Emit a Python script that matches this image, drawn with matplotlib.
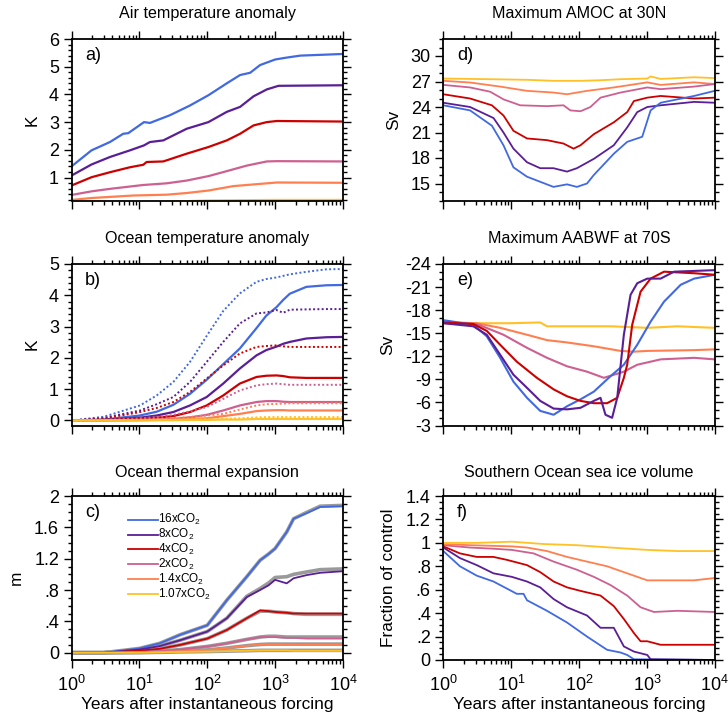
import matplotlib
matplotlib.use("Agg")
import matplotlib.pyplot as plt
from matplotlib.ticker import FixedLocator, MultipleLocator, LogLocator, FuncFormatter, NullFormatter

plt.rcParams["font.family"] = ["Liberation Sans", "DejaVu Sans"]
plt.rcParams["mathtext.fontset"] = "custom"
plt.rcParams["mathtext.rm"] = "Liberation Sans"
plt.rcParams["mathtext.it"] = "Liberation Sans"

# ---------------- experiments ----------------
labels = ["16xCO$_2$", "8xCO$_2$", "4xCO$_2$", "2xCO$_2$", "1.4xCO$_2$", "1.07xCO$_2$"]
colors = ["#4169e1", "#5a1e96", "#cd0000", "#cd6090", "#ff7f50", "#ffc125"]

# ---------------- a) air temperature anomaly (K) ----------------
a_yr_16 = [1, 1.97, 3.68, 5.79, 6.86, 11.7, 14.3, 28.3, 55.7, 104, 194, 305, 428, 601, 1000, 1490, 2343, 10000]
a_16 = [1.40, 1.98, 2.28, 2.58, 2.60, 3.00, 2.97, 3.25, 3.60, 3.97, 4.40, 4.70, 4.78, 5.06, 5.26, 5.33, 5.40, 5.46]
a_yr_8 = [1, 1.97, 3.68, 7.26, 11.7, 14.3, 22.5, 49.8, 104, 194, 305, 480, 754, 1122, 10000]
a_8 = [1.07, 1.47, 1.74, 1.98, 2.16, 2.28, 2.34, 2.76, 3.00, 3.37, 3.55, 3.93, 4.18, 4.31, 4.33]
a_yr_4 = [1, 1.97, 3.68, 7.26, 11.4, 12.8, 22.5, 49.8, 104, 194, 305, 480, 754, 1059, 10000]
a_4 = [0.71, 1.01, 1.19, 1.37, 1.46, 1.56, 1.58, 1.86, 2.10, 2.34, 2.58, 2.88, 3.00, 3.04, 3.02]
a_yr_2 = [1, 1.97, 3.68, 11.4, 25.2, 49.8, 104, 194, 382, 754, 1059, 10000]
a_2 = [0.37, 0.50, 0.59, 0.73, 0.79, 0.89, 1.05, 1.23, 1.43, 1.58, 1.59, 1.58]
a_yr_14 = [1, 1.97, 8.13, 25.2, 49.8, 104, 243, 601, 1059, 10000]
a_14 = [0.19, 0.26, 0.35, 0.38, 0.44, 0.53, 0.69, 0.77, 0.82, 0.81]
a_yr_107 = [1, 10, 98, 1000, 10000]
a_107 = [0.05, 0.09, 0.17, 0.19, 0.19]

# ---------------- b) ocean temperature anomaly (K) ----------------
# solid: full depth, dotted: upper ocean
b_yr = [1, 3, 10.2, 18, 31.6, 55.6, 98, 172, 302, 531, 741, 1047, 1312, 1644, 2884, 5690, 10000]
b_16 = [0, 0.03, 0.16, 0.28, 0.50, 0.85, 1.30, 1.80, 2.30, 2.95, 3.35, 3.62, 3.85, 4.05, 4.27, 4.32, 4.33]
b_16u = [0, 0.12, 0.48, 0.80, 1.23, 1.87, 2.70, 3.50, 4.06, 4.43, 4.52, 4.57, 4.62, 4.67, 4.75, 4.83, 4.84]
b_8 = [0, 0.02, 0.09, 0.16, 0.27, 0.48, 0.75, 1.18, 1.66, 2.08, 2.25, 2.36, 2.45, 2.51, 2.62, 2.66, 2.67]
b_8u = [0, 0.08, 0.32, 0.52, 0.75, 1.23, 1.87, 2.51, 3.10, 3.42, 3.45, 3.53, 3.44, 3.54, 3.55, 3.56, 3.56]
b_4 = [0, 0.01, 0.05, 0.09, 0.14, 0.27, 0.48, 0.80, 1.18, 1.39, 1.43, 1.44, 1.42, 1.38, 1.36, 1.36, 1.36]
b_4u = [0, 0.06, 0.27, 0.40, 0.59, 0.91, 1.34, 1.76, 2.14, 2.35, 2.38, 2.40, 2.37, 2.35, 2.35, 2.35, 2.35]
b_2 = [0, 0.0, 0.02, 0.03, 0.05, 0.10, 0.18, 0.32, 0.48, 0.59, 0.62, 0.62, 0.60, 0.59, 0.59, 0.59, 0.59]
b_2u = [0, 0.02, 0.07, 0.11, 0.18, 0.29, 0.43, 0.69, 0.96, 1.12, 1.16, 1.18, 1.16, 1.14, 1.14, 1.14, 1.14]
b_14 = [0, 0.0, 0.01, 0.02, 0.03, 0.05, 0.07, 0.14, 0.21, 0.30, 0.32, 0.33, 0.33, 0.32, 0.32, 0.32, 0.32]
b_14u = [0, 0.01, 0.03, 0.05, 0.08, 0.11, 0.16, 0.21, 0.35, 0.48, 0.52, 0.53, 0.54, 0.55, 0.55, 0.55, 0.55]
b_107 = [0, 0.0, 0.0, 0.01, 0.01, 0.02, 0.02, 0.03, 0.03, 0.05, 0.05, 0.05, 0.05, 0.05, 0.05, 0.05, 0.05]
b_107u = [0, 0.0, 0.01, 0.01, 0.02, 0.03, 0.04, 0.05, 0.07, 0.10, 0.11, 0.11, 0.11, 0.11, 0.11, 0.11, 0.11]

# ---------------- c) ocean thermal expansion (m) ----------------
c_yr = [1, 3, 10, 20, 40, 100, 194, 382, 601, 800, 1000, 1480, 1870, 2900, 4600, 10000]
c_16 = [0, 0.0, 0.055, 0.12, 0.23, 0.35, 0.67, 0.97, 1.18, 1.26, 1.33, 1.54, 1.71, 1.78, 1.86, 1.87]
c_8 = [0, 0.0, 0.04, 0.085, 0.16, 0.27, 0.44, 0.71, 0.80, 0.86, 0.93, 0.885, 0.95, 0.99, 1.02, 1.04]
c_4 = [0, 0.0, 0.025, 0.05, 0.10, 0.18, 0.29, 0.44, 0.54, 0.53, 0.52, 0.51, 0.50, 0.50, 0.50, 0.50]
c_2 = [0, 0.0, 0.01, 0.02, 0.04, 0.08, 0.12, 0.17, 0.20, 0.20, 0.20, 0.19, 0.19, 0.18, 0.18, 0.18]
c_14 = [0, 0.0, 0.005, 0.01, 0.02, 0.035, 0.06, 0.09, 0.105, 0.105, 0.105, 0.10, 0.10, 0.10, 0.10, 0.10]
c_107 = [0, 0.0, 0.0, 0.005, 0.01, 0.015, 0.02, 0.025, 0.03, 0.03, 0.03, 0.03, 0.025, 0.025, 0.025, 0.025]
# grey reference curves
c_ref_16 = [0, 0.0, 0.055, 0.12, 0.23, 0.35, 0.67, 0.97, 1.18, 1.26, 1.33, 1.54, 1.71, 1.79, 1.87, 1.88]
c_ref_8 = [0, 0.0, 0.04, 0.085, 0.16, 0.27, 0.44, 0.72, 0.82, 0.89, 0.96, 0.97, 1.00, 1.03, 1.06, 1.07]
c_ref_4 = [0, 0.0, 0.025, 0.05, 0.10, 0.18, 0.29, 0.44, 0.53, 0.53, 0.52, 0.51, 0.50, 0.49, 0.49, 0.49]
c_ref_2 = [0, 0.0, 0.01, 0.02, 0.04, 0.08, 0.12, 0.17, 0.20, 0.21, 0.21, 0.20, 0.20, 0.20, 0.20, 0.20]
c_ref_14 = [0, 0.0, 0.005, 0.01, 0.02, 0.035, 0.06, 0.09, 0.105, 0.11, 0.11, 0.11, 0.11, 0.11, 0.11, 0.11]
c_ref_107 = [0, 0.0, 0.0, 0.005, 0.01, 0.015, 0.02, 0.025, 0.03, 0.03, 0.03, 0.03, 0.03, 0.03, 0.03, 0.03]

# ---------------- d) maximum AMOC at 30N (Sv) ----------------
d_yr_107 = [1, 4.9, 17.1, 42, 105, 207, 408, 1012, 1133, 1592, 4950, 10000]
d_107 = [27.35, 27.27, 27.2, 27.08, 27.08, 27.15, 27.27, 27.35, 27.6, 27.3, 27.5, 27.4]
d_yr_14 = [1, 2.48, 6.9, 17.1, 42, 66.5, 131, 325, 1012, 1592, 4950, 10000]
d_14 = [27.08, 26.88, 26.4, 25.9, 25.7, 25.5, 25.9, 26.3, 26.9, 26.6, 26.9, 26.7]
d_yr_2 = [1, 2.48, 4.9, 7.7, 13.6, 33.7, 59, 74.5, 105, 147, 207, 408, 1012, 1592, 4950, 10000]
d_2 = [26.6, 26.3, 25.8, 24.9, 24.2, 24.1, 24.2, 23.6, 23.5, 24.0, 25.1, 25.7, 26.3, 26.1, 26.4, 26.7]
d_yr_4 = [1, 2.48, 5.2, 7.7, 10.8, 17.1, 33.7, 59, 83, 105, 165, 325, 512, 643, 1012, 1592, 4950, 10000]
d_4 = [25.5, 25.0, 24.2, 23.0, 21.2, 20.3, 20.1, 19.7, 19.1, 19.5, 20.8, 22.2, 23.4, 24.7, 25.1, 25.3, 25.0, 25.1]
d_yr_8 = [1, 2.48, 5.5, 7.7, 10.8, 17.1, 26.8, 42, 66.5, 93, 165, 325, 512, 720, 1012, 1592, 4950, 10000]
d_8 = [24.5, 24.0, 22.7, 21.0, 19.1, 17.5, 16.8, 16.8, 16.4, 16.8, 17.9, 19.5, 21.6, 23.4, 24.0, 24.2, 24.6, 24.5]
d_yr_16 = [1, 2.48, 5.2, 7.7, 10.8, 17.1, 42, 66.5, 93, 131, 165, 325, 512, 853, 1133, 1592, 4950, 10000]
d_16 = [24.2, 23.6, 21.8, 19.5, 16.9, 15.8, 14.6, 14.9, 14.6, 15.0, 16.0, 18.5, 19.9, 20.5, 23.6, 24.5, 25.3, 25.9]

# ---------------- e) maximum AABWF at 70S (Sv) ----------------
e_yr_107 = [1, 3.11, 9.67, 26.8, 33.7, 93.4, 290, 1012, 2806, 10000]
e_107 = [-16.5, -16.3, -16.3, -16.4, -15.9, -15.9, -15.9, -15.7, -15.9, -15.7]
e_yr_14 = [1, 3.11, 6.88, 17.1, 33.7, 66.5, 165, 408, 643, 1012, 4950, 10000]
e_14 = [-16.3, -16.3, -15.7, -14.8, -14.1, -13.8, -13.3, -12.7, -12.6, -12.7, -12.8, -12.9]
e_yr_2 = [1, 3.11, 7.7, 17.1, 33.7, 66.5, 131, 232, 457, 720, 1592, 4950, 10000]
e_2 = [-16.4, -16.2, -14.8, -13.1, -11.8, -10.7, -10.0, -9.2, -10.0, -10.9, -11.6, -11.8, -11.6]
e_yr_4 = [1, 2.77, 4.37, 6.88, 12.1, 23.9, 42.2, 66.5, 105, 165, 259, 365, 457, 512, 607, 806, 1133, 1784, 4950, 10000]
e_4 = [-16.4, -16.2, -15.3, -13.5, -11.3, -9.2, -7.7, -6.8, -6.2, -5.9, -5.9, -6.6, -9.2, -10.9, -16.1, -20.4, -22.1, -23.0, -22.8, -22.6]
e_yr_8 = [1, 2.77, 4.37, 6.88, 10.8, 17.1, 26.8, 42.2, 66.5, 105, 165, 207, 245, 307, 365, 457, 574, 720, 1012, 1592, 2505, 10000]
e_8 = [-16.3, -15.9, -14.8, -12.2, -9.6, -7.9, -6.2, -5.2, -5.1, -5.3, -6.2, -6.6, -4.4, -4.0, -6.6, -14.8, -20.0, -21.5, -22.1, -22.1, -23.0, -23.2]
e_yr_16 = [1, 2.77, 4.37, 6.88, 10.8, 17.1, 26.8, 42.2, 66.5, 105, 165, 290, 457, 720, 1133, 1784, 3145, 4950, 10000]
e_16 = [-16.7, -16.1, -14.6, -11.8, -8.7, -6.6, -4.9, -4.4, -5.5, -6.4, -7.4, -9.4, -10.9, -13.5, -16.5, -19.1, -21.3, -22.1, -22.6]

# ---------------- f) Southern Ocean sea ice volume (fraction of control) ----------------
f_yr_107 = [1, 3.11, 10.2, 30, 93.4, 290, 1012, 2806, 10000]
f_107 = [1.0, 1.0, 1.01, 0.99, 0.98, 0.96, 0.94, 0.93, 0.93]
f_yr_14 = [1, 2.48, 10.2, 17.1, 33.7, 66.5, 131, 259, 512, 1012, 1996, 4950, 10000]
f_14 = [0.99, 0.98, 0.97, 0.96, 0.93, 0.88, 0.84, 0.80, 0.74, 0.68, 0.68, 0.68, 0.70]
f_yr_2 = [1, 2.48, 5.48, 10.2, 21.4, 42.2, 93.4, 165, 290, 512, 806, 1269, 2806, 10000]
f_2 = [0.98, 0.96, 0.95, 0.94, 0.91, 0.84, 0.77, 0.71, 0.64, 0.55, 0.45, 0.41, 0.42, 0.41]
f_yr_4 = [1, 1.76, 3.11, 5.48, 8.63, 17.1, 26.8, 42.2, 66.5, 105, 207, 325, 457, 643, 806, 1012, 1592, 10000]
f_4 = [0.97, 0.91, 0.88, 0.88, 0.855, 0.81, 0.75, 0.67, 0.62, 0.59, 0.55, 0.46, 0.35, 0.23, 0.16, 0.16, 0.13, 0.13]
f_yr_8 = [1, 1.76, 3.11, 5.48, 10.2, 17.1, 26.8, 42.2, 66.5, 131, 207, 325, 457, 643, 1012, 1133, 10000]
f_8 = [0.96, 0.87, 0.81, 0.74, 0.71, 0.67, 0.62, 0.52, 0.45, 0.38, 0.275, 0.275, 0.116, 0.072, 0.043, 0.006, 0.0]
f_yr_16 = [1, 1.76, 3.11, 5.48, 8.63, 12.1, 15.2, 17.1, 33.7, 66.5, 131, 259, 408, 512, 643, 10000]
f_16 = [0.93, 0.80, 0.72, 0.67, 0.61, 0.565, 0.565, 0.51, 0.42, 0.32, 0.20, 0.087, 0.064, 0.043, 0.006, 0.0]


def plain_fmt(v, pos):
    s = "%g" % round(v, 6)
    if s.startswith("0."):
        s = s[1:]
    elif s.startswith("-0."):
        s = "-" + s[2:]
    return s


TITLE_FS = 11.6
LABEL_FS = 12.4
TICK_FS = 13


def style(ax, ylim, major, minor, ylabel, letter, bottom=False):
    ax.set_xscale("log")
    ax.set_xlim(1, 1e4)
    ax.set_ylim(*ylim)
    ax.xaxis.set_major_locator(LogLocator(base=10, numticks=10))
    ax.xaxis.set_minor_locator(LogLocator(base=10, subs=range(2, 10), numticks=20))
    ax.xaxis.set_minor_formatter(NullFormatter())
    if not bottom:
        ax.xaxis.set_major_formatter(NullFormatter())
    ax.yaxis.set_major_locator(FixedLocator(major))
    ax.yaxis.set_minor_locator(MultipleLocator(minor))
    ax.yaxis.set_major_formatter(FuncFormatter(plain_fmt))
    ax.tick_params(which="both", direction="out", top=True, right=True, width=1.0)
    ax.tick_params(which="major", length=5.5, labelsize=TICK_FS)
    ax.tick_params(which="minor", length=3)
    ax.tick_params(axis="x", which="major", labelsize=TICK_FS, pad=5)
    for sp in ax.spines.values():
        sp.set_linewidth(1.3)
    ax.set_ylabel(ylabel, fontsize=LABEL_FS, labelpad=7)
    ax.text(0.05, 0.9, letter + ")", transform=ax.transAxes, fontsize=13, va="center", ha="left")
    if bottom:
        ax.set_xlabel("Years after instantaneous forcing", fontsize=LABEL_FS, labelpad=2)


fig = plt.figure(figsize=(7.28, 7.25), dpi=100)
W, H = 728.0, 725.0
xl, xr = 71.5, 443.3
aw = 271.5
rows = [(39, 200.5), (264, 425.5), (496, 660)]


def make_axes(x0, r):
    top, bot = rows[r]
    return fig.add_axes([x0 / W, 1 - bot / H, aw / W, (bot - top) / H])


axa = make_axes(xl, 0)
axb = make_axes(xl, 1)
axc = make_axes(xl, 2)
axd = make_axes(xr, 0)
axe = make_axes(xr, 1)
axf = make_axes(xr, 2)

lw = 1.3

# a)
for yr, v, c in zip([a_yr_16, a_yr_8, a_yr_4, a_yr_2, a_yr_14, a_yr_107],
                    [a_16, a_8, a_4, a_2, a_14, a_107], colors):
    axa.plot(yr, v, color=c, lw=lw + 0.3)
style(axa, (0.17, 6), [1, 2, 3, 4, 5, 6], 0.2, "K", "a")
axa.set_title("Air temperature anomaly", fontsize=TITLE_FS, pad=15)

# b)
for v, vu, c in zip([b_16, b_8, b_4, b_2, b_14, b_107],
                    [b_16u, b_8u, b_4u, b_2u, b_14u, b_107u], colors):
    axb.plot(b_yr, vu, color=c, lw=1.4, ls=(0, (1, 1.2)))
    axb.plot(b_yr, v, color=c, lw=lw + 0.3)
style(axb, (-0.16, 5), [0, 1, 2, 3, 4, 5], 0.2, "K", "b")
axb.set_title("Ocean temperature anomaly", fontsize=TITLE_FS, pad=15)

# c)
for v in [c_ref_16, c_ref_8, c_ref_4, c_ref_2, c_ref_14, c_ref_107]:
    axc.plot(c_yr, v, color="#9a9a9a", lw=2.6)
for v, c in zip([c_16, c_8, c_4, c_2, c_14, c_107], colors):
    axc.plot(c_yr, v, color=c, lw=lw)
style(axc, (-0.093, 2), [0, 0.4, 0.8, 1.2, 1.6, 2.0], 0.1, "m", "c", bottom=True)
axc.set_title("Ocean thermal expansion", fontsize=TITLE_FS, pad=14)
# legend drawn as short line segments with labels
for i, (lab, c) in enumerate(zip(labels, colors)):
    yy = 0.855 - i * 0.0905
    axc.plot([0.207, 0.318], [yy, yy], color=c, lw=1.3, transform=axc.transAxes)
    axc.text(0.318, yy, lab, transform=axc.transAxes, fontsize=8.5, va="center", ha="left")

# d)
for yr, v, c in zip([d_yr_16, d_yr_8, d_yr_4, d_yr_2, d_yr_14, d_yr_107][::-1],
                    [d_16, d_8, d_4, d_2, d_14, d_107][::-1], colors[::-1]):
    axd.plot(yr, v, color=c, lw=lw)
style(axd, (13, 32), [15, 18, 21, 24, 27, 30], 1, "Sv", "d")
axd.set_title("Maximum AMOC at 30N", fontsize=TITLE_FS, pad=15)

# e)
for yr, v, c in zip([e_yr_107, e_yr_14, e_yr_2, e_yr_16, e_yr_4, e_yr_8],
                    [e_107, e_14, e_2, e_16, e_4, e_8],
                    [colors[5], colors[4], colors[3], colors[0], colors[2], colors[1]]):
    axe.plot(yr, v, color=c, lw=lw + 0.2)
style(axe, (-3, -24), [-24, -21, -18, -15, -12, -9, -6, -3], 1, "Sv", "e")
axe.set_title("Maximum AABWF at 70S", fontsize=TITLE_FS, pad=15)

# f)
for yr, v, c in zip([f_yr_16, f_yr_8, f_yr_4, f_yr_2, f_yr_14, f_yr_107],
                    [f_16, f_8, f_4, f_2, f_14, f_107], colors):
    axf.plot(yr, v, color=c, lw=lw)
style(axf, (0, 1.4), [0, 0.2, 0.4, 0.6, 0.8, 1.0, 1.2, 1.4], 0.05, "Fraction of control", "f", bottom=True)
axf.set_title("Southern Ocean sea ice volume", fontsize=TITLE_FS, pad=14)

fig.savefig("out.png", dpi=100)
